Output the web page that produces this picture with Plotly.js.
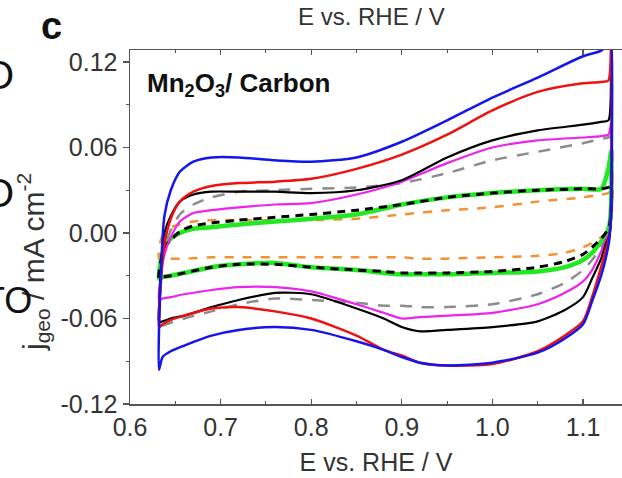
<!DOCTYPE html>
<html><head><meta charset="utf-8">
<script src="https://cdn.plot.ly/plotly-3.0.1.min.js"></script>
<style>html,body{margin:0;padding:0;background:#fff;}#chart{width:622px;height:478px;}</style>
</head><body><div id="chart"></div>
<script>
// Potential grids (V vs RHE): anodic sweep then cathodic sweep
const E_anodic = [0.632,0.634,0.638,0.645,0.655,0.67,0.69,0.72,0.76,0.80,0.85,0.90,0.95,1.00,1.05,1.10,1.12,1.128,1.131];
const E_cathodic = [1.131,1.129,1.125,1.12,1.11,1.10,1.08,1.05,1.00,0.95,0.92,0.90,0.88,0.85,0.80,0.76,0.72,0.69,0.66,0.645,0.636,0.632];

// Current densities (mA cm^-2)
const blue_up   = [-0.096,-0.030,0.012,0.030,0.043,0.050,0.053,0.053,0.051,0.050,0.053,0.064,0.079,0.095,0.109,0.124,0.128,0.133,0.140];
const blue_down = [0.020,-0.005,-0.018,-0.030,-0.048,-0.064,-0.074,-0.084,-0.091,-0.093,-0.091,-0.087,-0.082,-0.076,-0.068,-0.066,-0.068,-0.072,-0.079,-0.083,-0.087,-0.096];

const red_up    = [-0.066,-0.035,-0.008,0.010,0.022,0.029,0.033,0.035,0.036,0.038,0.045,0.055,0.069,0.086,0.099,0.105,0.106,0.107,0.132];
const red_down  = [0.020,-0.003,-0.012,-0.024,-0.045,-0.062,-0.072,-0.083,-0.092,-0.093,-0.091,-0.086,-0.082,-0.072,-0.060,-0.055,-0.052,-0.053,-0.058,-0.061,-0.064,-0.066];

const black_up   = [-0.062,-0.025,0.000,0.012,0.022,0.027,0.029,0.029,0.029,0.028,0.030,0.037,0.053,0.065,0.072,0.076,0.078,0.079,0.113];
const black_down = [0.010,-0.002,-0.008,-0.018,-0.032,-0.045,-0.054,-0.062,-0.066,-0.068,-0.069,-0.066,-0.060,-0.053,-0.043,-0.042,-0.047,-0.052,-0.058,-0.060,-0.062,-0.063];

const magenta_up   = [-0.047,-0.030,-0.015,-0.003,0.008,0.014,0.016,0.018,0.020,0.021,0.027,0.036,0.049,0.060,0.065,0.067,0.068,0.069,0.077];
const magenta_down = [0.010,0.000,-0.005,-0.013,-0.026,-0.034,-0.042,-0.050,-0.056,-0.058,-0.059,-0.060,-0.056,-0.050,-0.041,-0.038,-0.038,-0.040,-0.043,-0.045,-0.046,-0.047];

const gray_up   = [-0.066,-0.035,-0.012,0.002,0.013,0.020,0.025,0.029,0.030,0.031,0.032,0.035,0.042,0.051,0.057,0.063,0.066,0.067,0.068];
const gray_down = [0.010,0.000,-0.005,-0.010,-0.019,-0.026,-0.035,-0.043,-0.050,-0.052,-0.052,-0.051,-0.051,-0.049,-0.047,-0.046,-0.050,-0.055,-0.060,-0.063,-0.065,-0.066];

const green_up   = [-0.032,-0.020,-0.010,-0.004,0.000,0.003,0.004,0.006,0.008,0.010,0.013,0.020,0.025,0.028,0.030,0.031,0.031,0.045,0.057];
const green_down = [0.020,0.005,-0.002,-0.006,-0.014,-0.019,-0.024,-0.027,-0.028,-0.029,-0.029,-0.029,-0.028,-0.026,-0.024,-0.021,-0.022,-0.024,-0.028,-0.030,-0.031,-0.032];

const blackdash_up   = [-0.032,-0.020,-0.010,-0.005,0.001,0.005,0.007,0.009,0.011,0.013,0.016,0.020,0.025,0.028,0.030,0.031,0.031,0.032,0.033];
const blackdash_down = [0.015,0.005,0.000,-0.004,-0.010,-0.015,-0.020,-0.024,-0.027,-0.028,-0.028,-0.028,-0.027,-0.026,-0.024,-0.022,-0.022,-0.024,-0.028,-0.030,-0.031,-0.032];

const orange_up   = [-0.018,-0.005,0.000,0.004,0.006,0.008,0.009,0.009,0.009,0.009,0.010,0.013,0.016,0.018,0.022,0.025,0.027,0.028,0.030];
const orange_down = [0.010,0.004,0.000,-0.003,-0.007,-0.010,-0.014,-0.016,-0.017,-0.018,-0.018,-0.017,-0.017,-0.017,-0.017,-0.017,-0.017,-0.017,-0.018,-0.018,-0.018,-0.018];

const xTickVals = [0.6,0.7,0.8,0.9,1.0,1.1];
const xTickText = ['0.6','0.7','0.8','0.9','1.0','1.1'];
const yTickVals = [-0.12,-0.06,0,0.06,0.12];
const yTickText = ['-0.12','-0.06','0.00','0.06','0.12'];

const FONT = 'Arial, "Liberation Sans", sans-serif';
const W = 622, H = 478, ML = 130, MT = 50, MB = 74;
const PW = W - ML, PH = H - MT - MB;
const px = (x) => (x - ML) / PW;
const py = (y) => (H - MB - y) / PH;

function loop(up, down, color, width, dash) {
  return {
    x: E_anodic.concat(E_cathodic),
    y: up.concat(down),
    type: 'scatter', mode: 'lines',
    line: {color: color, width: width, dash: dash || 'solid', shape: 'spline', smoothing: 0.7},
    hoverinfo: 'skip', showlegend: false
  };
}

const traces = [
  loop(orange_up, orange_down, '#f39233', 2.5, '9px,9px'),
  loop(green_up, green_down, '#22e822', 4.5),
  loop(blackdash_up, blackdash_down, '#000000', 3, '8px,6px'),
  loop(gray_up, gray_down, '#8c8c8c', 2.5, '12px,10px'),
  loop(magenta_up, magenta_down, '#ee22ee', 2.2),
  loop(black_up, black_down, '#000000', 2.2),
  loop(red_up, red_down, '#ee1111', 2.5),
  loop(blue_up, blue_down, '#1414ee', 2.5)
];

const layout = {
  width: W, height: H,
  margin: {l: ML, r: 0, t: MT, b: MB},
  paper_bgcolor: '#fff', plot_bgcolor: '#fff',
  font: {family: FONT, color: '#333', size: 25},
  xaxis: {
    range: [0.6, 0.6 + PW / 906],
    tickvals: xTickVals, ticktext: xTickText,
    ticks: 'inside', ticklen: 5, tickwidth: 1.2, tickcolor: '#555',
    minor: {dtick: 0.05, tick0: 0.6, ticks: 'inside', ticklen: 3, tickcolor: '#555', tickwidth: 1.2},
    showline: true, linecolor: '#555', linewidth: 1.5, mirror: 'ticks',
    showgrid: false, zeroline: false,
    tickfont: {family: FONT, size: 25, color: '#333'},
    title: {text: 'E vs. RHE / V', font: {family: FONT, size: 25, color: '#333'}, standoff: 14}
  },
  yaxis: {
    range: [-0.12, 0.1284],
    tickvals: yTickVals, ticktext: yTickText,
    ticks: 'outside', ticklen: 6, tickwidth: 1.2, tickcolor: '#555',
    minor: {dtick: 0.03, tick0: 0, ticks: 'outside', ticklen: 3, tickcolor: '#555', tickwidth: 1.2},
    showline: true, linecolor: '#555', linewidth: 1.5, mirror: false,
    showgrid: false, zeroline: false,
    tickfont: {family: FONT, size: 25, color: '#333'}
  },
  annotations: [
    {text: '<b>Mn<sub>2</sub>O<sub>3</sub>/ Carbon</b>', xref: 'paper', yref: 'paper',
     x: px(145), y: py(84), xanchor: 'left', yanchor: 'middle', showarrow: false,
     font: {family: FONT, size: 26, color: '#111'}},
    {text: 'j<sub>geo</sub> / mA cm<sup>-2</sup>', xref: 'paper', yref: 'paper',
     x: px(33), y: py(262), xanchor: 'center', yanchor: 'middle', textangle: -90, showarrow: false,
     font: {family: FONT, size: 30, color: '#333'}},
    {text: '<b>c</b>', xref: 'paper', yref: 'paper',
     x: px(51), y: py(26), xanchor: 'center', yanchor: 'middle', showarrow: false,
     font: {family: FONT, size: 38, color: '#111'}},
    {text: 'E vs. RHE / V', xref: 'paper', yref: 'paper',
     x: px(371), y: py(16), xanchor: 'center', yanchor: 'middle', showarrow: false,
     font: {family: FONT, size: 24, color: '#333'}},
    {text: 'O', xref: 'paper', yref: 'paper',
     x: px(16), y: py(75), xanchor: 'right', yanchor: 'middle', showarrow: false,
     font: {family: FONT, size: 40, color: '#111'}},
    {text: 'O', xref: 'paper', yref: 'paper',
     x: px(16), y: py(193), xanchor: 'right', yanchor: 'middle', showarrow: false,
     font: {family: FONT, size: 40, color: '#111'}},
    {text: 'TO', xref: 'paper', yref: 'paper',
     x: px(34), y: py(300), xanchor: 'right', yanchor: 'middle', showarrow: false,
     font: {family: FONT, size: 36, color: '#111'}}
  ]
};

Plotly.newPlot('chart', traces, layout, {displayModeBar: false, staticPlot: true});
</script></body></html>
